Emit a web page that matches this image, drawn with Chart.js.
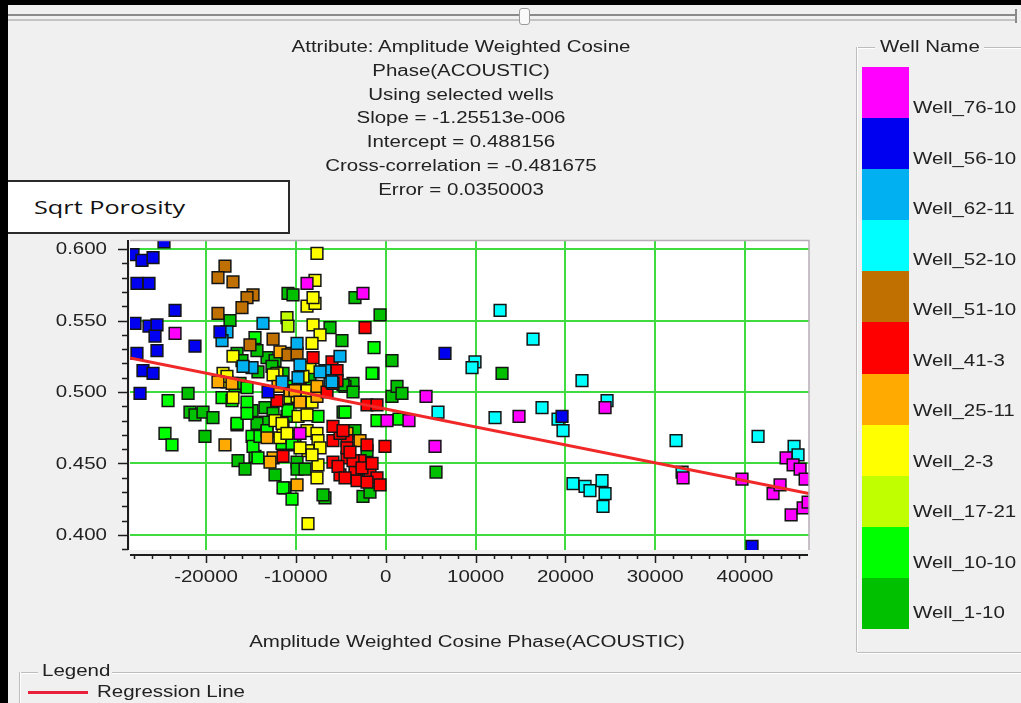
<!DOCTYPE html>
<html>
<head>
<meta charset="utf-8">
<script src="https://cdn.jsdelivr.net/npm/chart.js@4.4.0/dist/chart.umd.min.js"></script>
<style>
  html, body { margin: 0; padding: 0; width: 1021px; height: 703px; overflow: hidden; background: #f0f0f0;
    font-family: "Liberation Sans", Arial, sans-serif; color: #222; }
  #c { position: absolute; left: 0; top: 0; }
  .frame { position: absolute; background: #000; }
  .t { position: absolute; white-space: nowrap; font-size: 16px; line-height: 18px;
       transform: translate(-50%, -50%) scaleX(1.28); }
  .l { position: absolute; white-space: nowrap; font-size: 16px; line-height: 18px;
       transform-origin: 0 50%; transform: translateY(-50%) scaleX(1.28); }
  .hl { position: absolute; height: 0; border-top: 1px solid #bdbdbd; border-bottom: 1px solid #fff; }
  .vl { position: absolute; width: 0; border-left: 1px solid #bdbdbd; border-right: 1px solid #fff; }
  #slider1 { position: absolute; left: 8px; top: 14px; width: 1008px; height: 0; border-top: 2px solid #8a8a8a; }
  #slider2 { position: absolute; left: 8px; top: 19px; width: 1008px; height: 0; border-top: 2px solid #c4c4c4; }
  #knob { position: absolute; left: 519px; top: 8px; width: 9px; height: 15px; background: #fafafa;
          border: 1px solid #9a9a9a; border-radius: 3px; }
  #sliderEnd { position: absolute; left: 1015px; top: 9px; width: 2px; height: 14px; background: #8a8a8a; }
  #yname { position: absolute; left: 8px; top: 180px; width: 280px; height: 50px; background: #fff;
           border: 2px solid #2a2a2a; border-left: none; }
  #yname span { position: absolute; left: 26px; top: 50%; white-space: nowrap; font-family: "Open Sans", "Noto Sans", sans-serif;
                font-size: 19px; color: #111; transform-origin: 0 50%; transform: translateY(-50%) scaleX(1.33); }
  #bars { position: absolute; left: 862px; top: 67px; width: 47px; }
  #bars div { height: 51.1px; }
  #regSample { position: absolute; left: 28px; top: 691px; width: 60px; height: 3px; background: #e8203a; }
</style>
</head>
<body>
<canvas id="c" width="1021" height="703"></canvas>

<div class="frame" style="left:0;top:0;width:1021px;height:5px;"></div>
<div class="frame" style="left:0;top:0;width:8px;height:703px;"></div>
<div id="slider1"></div><div id="slider2"></div><div id="knob"></div><div id="sliderEnd"></div>

<div id="yname"><span>Sqrt Porosity</span></div>

<!-- Well Name group box -->
<div class="hl" style="left:857px;top:47px;width:18px;"></div>
<div class="hl" style="left:984px;top:47px;width:37px;"></div>
<div class="hl" style="left:857px;top:652px;width:164px;"></div>
<div class="vl" style="left:856px;top:47px;height:605px;"></div>
<div class="l" style="left:880px;top:47px;">Well Name</div>
<div id="bars"></div>

<!-- Legend group box -->
<div class="hl" style="left:20px;top:672px;width:18px;"></div>
<div class="hl" style="left:112px;top:672px;width:909px;"></div>
<div class="vl" style="left:19px;top:672px;height:40px;"></div>
<div class="l" style="left:42px;top:671px;">Legend</div>
<div id="regSample"></div>
<div class="l" style="left:97px;top:692px;">Regression Line</div>

<div class="t" style="left:467px;top:642px;">Amplitude Weighted Cosine Phase(ACOUSTIC)</div>

<script>
// Regression statistics shown in the header
const titleLines = [
  'Attribute: Amplitude Weighted Cosine',
  'Phase(ACOUSTIC)',
  'Using selected wells',
  'Slope = -1.25513e-006',
  'Intercept = 0.488156',
  'Cross-correlation = -0.481675',
  'Error = 0.0350003'
];
const slope = -1.25513e-6;
const intercept = 0.488156;

// Axis ranges and tick labels
const xRange = [-28465, 47120];
const yRange = [0.3895, 0.6063];
const xMajorTicks = [-20000, -10000, 0, 10000, 20000, 30000, 40000];
const yMajorTicks = [0.40, 0.45, 0.50, 0.55, 0.60];
const xMinorStep = 2000;
const yMinorStep = 0.01;

// Wells (legend order) and their colours
const wellNames = ['Well_76-10', 'Well_56-10', 'Well_62-11', 'Well_52-10', 'Well_51-10', 'Well_41-3',
                   'Well_25-11', 'Well_2-3', 'Well_17-21', 'Well_10-10', 'Well_1-10'];
const wellColors = ['#ff00ff', '#0000f0', '#00b0f0', '#00ffff', '#c07000', '#ff0000',
                    '#ffaa00', '#ffff00', '#c0ff00', '#00ff00', '#00c000'];

// Samples per well: [attribute, sqrt porosity]
const well_76_10 = [[-23450,0.541],[-8760,0.576],[-2530,0.569],[-9540,0.471],[140,0.480],[2590,0.480],
  [4490,0.497],[5490,0.462],[14840,0.483],[24420,0.489],[33100,0.440],[39660,0.439],[43120,0.429],
  [43900,0.435],[44570,0.454],[45350,0.449],[46130,0.446],[46690,0.439],[45130,0.414],[46470,0.419],[47020,0.423]];
const well_56_10 = [[-24680,0.605],[-28130,0.596],[-27130,0.592],[-25900,0.594],[-27690,0.576],[-26350,0.576],
  [-27910,0.548],[-26350,0.546],[-25460,0.547],[-25680,0.539],[-23450,0.557],[-21230,0.532],[-25460,0.529],
  [-27690,0.527],[-27020,0.515],[-25900,0.513],[-27350,0.499],[-18450,0.542],[-13100,0.500],[6600,0.527],
  [19630,0.483],[40780,0.392]];
const well_62_11 = [[-13660,0.548],[-17670,0.542],[-18220,0.536],[-9870,0.534],[-6760,0.515],[-6200,0.508],
  [-5090,0.525],[-14880,0.517],[-11540,0.507],[-9760,0.510],[-7310,0.514],[-5980,0.507],[-15880,0.518],
  [-9540,0.519]];
const well_52_10 = [[12730,0.557],[16400,0.537],[9940,0.521],[9610,0.517],[21850,0.508],[24640,0.494],
  [5820,0.486],[12170,0.482],[17400,0.489],[19180,0.481],[19740,0.473],[32320,0.466],[41450,0.469],
  [20850,0.436],[22190,0.434],[22740,0.431],[24080,0.438],[24420,0.429],[24190,0.420],[32990,0.444],
  [45460,0.462],[45900,0.456]];
const well_51_10 = [[-17890,0.588],[-18670,0.580],[-17000,0.577],[-14770,0.568],[-15440,0.566],[-16000,0.559],
  [-18670,0.555],[-15110,0.533],[-12540,0.537],[-10880,0.526],[-9870,0.527]];
const well_41_3 = [[-2300,0.545],[-8090,0.524],[-5980,0.521],[-5420,0.515],[-6530,0.500],[-5420,0.508],
  [-12100,0.494],[-2080,0.491],[-970,0.491],[-80,0.462],[-5870,0.451],[-5090,0.442],[-3190,0.438],
  [-1750,0.442],[-970,0.440],[-3420,0.446],[-2860,0.452],[-4310,0.454],[-4310,0.466],[-5870,0.466],
  [-5090,0.471],[-5870,0.476],[-4750,0.473],[-2080,0.463],[-11430,0.455],[-5310,0.448],[-3640,0.452],
  [-2080,0.437],[-4310,0.461],[-5870,0.506],[-3980,0.458],[-2640,0.447],[-4530,0.440],[-630,0.435],
  [-1520,0.450]];
const well_25_11 = [[-17890,0.463],[-18670,0.507],[-11990,0.504],[-10650,0.501],[-10100,0.501],[-12540,0.454],
  [-12880,0.451],[-9870,0.435],[-10880,0.527],[-9540,0.493],[-2860,0.466],[-4310,0.471],[-7650,0.497],
  [-13210,0.468],[-17110,0.506],[-11770,0.528],[-7650,0.504]];
const well_2_3 = [[-7650,0.597],[-7870,0.578],[-8760,0.560],[-7870,0.562],[-8090,0.566],[-8090,0.547],
  [-7310,0.540],[-8200,0.534],[-8430,0.517],[-12100,0.513],[-18110,0.513],[-17670,0.507],[-17000,0.496],
  [-12320,0.480],[-9760,0.483],[-8760,0.484],[-11770,0.468],[-11430,0.476],[-8760,0.473],[-7650,0.471],
  [-7540,0.466],[-7310,0.461],[-8650,0.459],[-7540,0.449],[-7650,0.440],[-8650,0.408],[-8760,0.494],
  [-8200,0.493],[-12540,0.512],[-11540,0.478],[-10990,0.471],[-17000,0.525],[-17670,0.511],[-9210,0.511],
  [-9870,0.497],[-8760,0.501],[-9540,0.461],[-8200,0.456]];
const well_17_21 = [[-10990,0.552],[-10880,0.546],[-10650,0.496]];
const well_10_10 = [[-24230,0.494],[-24570,0.471],[-23790,0.463],[-18220,0.496],[-17110,0.494],[-15440,0.493],
  [-15440,0.503],[-1520,0.513],[-1300,0.531],[-14550,0.538],[-16550,0.478],[-15440,0.485],[-14880,0.469],
  [-14770,0.462],[-11540,0.464],[-10430,0.464],[-11430,0.433],[-970,0.480],[1480,0.481],[-4530,0.486],
  [-14000,0.469],[-13210,0.473],[-10880,0.487],[-7540,0.483],[-10430,0.425],[-14220,0.454],[-10990,0.504]];
const well_1_10 = [[-10880,0.569],[-10320,0.568],[-3420,0.566],[-630,0.554],[-17330,0.550],[-6200,0.545],
  [-4870,0.536],[700,0.522],[-16550,0.527],[-16000,0.522],[-13210,0.524],[-12320,0.522],[-3640,0.506],
  [-4530,0.504],[-22000,0.499],[700,0.497],[1260,0.504],[-14220,0.514],[-12660,0.518],[-16780,0.504],
  [-16220,0.506],[-8430,0.510],[-8200,0.504],[-4750,0.505],[-3640,0.500],[-21790,0.486],[-21230,0.484],
  [-20340,0.486],[-19230,0.482],[-16550,0.477],[-14880,0.487],[-13440,0.489],[-12540,0.485],[-13440,0.479],
  [-10990,0.483],[-20120,0.469],[-16440,0.452],[-14550,0.455],[-10430,0.463],[-10100,0.469],[-9870,0.451],
  [-9870,0.446],[-11210,0.433],[-6760,0.426],[-2530,0.427],[-1750,0.430],[-2080,0.459],[-3420,0.473],
  [-4750,0.486],[1810,0.499],[5600,0.444],[12950,0.513],[-1410,0.513],[-6980,0.428],[-14330,0.478],
  [-13210,0.472],[-14330,0.529],[-11430,0.513],[-8980,0.446],[-12320,0.442],[-15660,0.446]];

const wellSamples = [well_76_10, well_56_10, well_62_11, well_52_10, well_51_10, well_41_3,
                     well_25_11, well_2_3, well_17_21, well_10_10, well_1_10];

// Header lines and the well colour key
const LABEL_SCALE = 1.28;
titleLines.forEach((txt, i) => {
  const d = document.createElement('div');
  d.className = 't';
  d.style.left = '461px';
  d.style.top = (47 + i * 23.8) + 'px';
  d.textContent = txt;
  document.body.appendChild(d);
});
const bars = document.getElementById('bars');
wellNames.forEach((name, i) => {
  const b = document.createElement('div');
  b.style.background = wellColors[i];
  bars.appendChild(b);
  const l = document.createElement('div');
  l.className = 'l';
  l.style.left = '913px';
  l.style.top = (108 + i * 50.5) + 'px';
  l.textContent = name;
  document.body.appendChild(l);
});

const near = (v, step) => Math.abs(v / step - Math.round(v / step)) < 1e-6;
const isMajorX = v => near(v, 10000);
const isMajorY = v => near(v, 0.05);
const GRID = '#3fdc3f';

// Ticks on every minor step inside the range (majors get grid lines and labels)
function stepTicks(range, step) {
  const out = [];
  const first = Math.ceil(range[0] / step - 1e-9);
  const last = Math.floor(range[1] / step + 1e-9);
  for (let k = first; k <= last; k++) out.push({ value: +(k * step).toFixed(6) });
  return out;
}

// White plot area, axis lines, ticks and tick labels
const axisPlugin = {
  id: 'axisPlugin',
  beforeDraw(chart) {
    const { ctx, chartArea: a } = chart;
    ctx.save();
    ctx.fillStyle = '#ffffff';
    ctx.fillRect(a.left, a.top, a.right - a.left, a.bottom - a.top);
    ctx.restore();
  },
  afterDraw(chart) {
    const { ctx, chartArea: a, scales: { x, y } } = chart;
    ctx.save();
    ctx.strokeStyle = '#b7adb7';
    ctx.lineWidth = 1.5;
    ctx.beginPath();
    ctx.moveTo(a.left, a.top + 0.5); ctx.lineTo(a.right, a.top + 0.5); ctx.lineTo(a.right, a.bottom);
    ctx.stroke();

    ctx.strokeStyle = '#1c1c1c';
    const yx = a.left - 2;
    ctx.lineWidth = 2;
    ctx.beginPath(); ctx.moveTo(yx, a.top); ctx.lineTo(yx, a.bottom); ctx.stroke();
    ctx.lineWidth = 1.5;
    y.ticks.forEach(t => {
      const py = Math.round(y.getPixelForValue(t.value)) + 0.5;
      ctx.beginPath(); ctx.moveTo(yx, py); ctx.lineTo(yx - (isMajorY(t.value) ? 10 : 6), py); ctx.stroke();
    });

    const xy = a.bottom + 5;
    ctx.lineWidth = 2;
    ctx.beginPath(); ctx.moveTo(a.left, xy); ctx.lineTo(a.right - 1, xy); ctx.stroke();
    ctx.lineWidth = 1.5;
    x.ticks.forEach(t => {
      const px = Math.round(x.getPixelForValue(t.value)) + 0.5;
      ctx.beginPath(); ctx.moveTo(px, xy); ctx.lineTo(px, xy + (isMajorX(t.value) ? 8 : 4)); ctx.stroke();
    });

    ctx.fillStyle = '#222';
    ctx.font = '16px "Liberation Sans", Arial, sans-serif';
    ctx.textBaseline = 'middle';
    xMajorTicks.forEach(v => {
      ctx.save();
      ctx.translate(x.getPixelForValue(v), xy + 23);
      ctx.scale(LABEL_SCALE, 1);
      ctx.textAlign = 'center';
      ctx.fillText(String(v), 0, 0);
      ctx.restore();
    });
    yMajorTicks.forEach(v => {
      ctx.save();
      ctx.translate(yx - 21, y.getPixelForValue(v) + 1);
      ctx.scale(LABEL_SCALE, 1);
      ctx.textAlign = 'right';
      ctx.fillText(v.toFixed(3), 0, 0);
      ctx.restore();
    });
    ctx.restore();
  }
};

const datasets = [{
  type: 'line',
  label: 'Regression Line',
  data: xRange.map(v => ({ x: v, y: intercept + slope * v })),
  borderColor: '#f02828',
  borderWidth: 3,
  pointRadius: 0,
  order: 0,
  clip: 0
}];
wellSamples.forEach((pts, i) => {
  datasets.push({
    label: wellNames[i],
    data: pts.map(p => ({ x: p[0], y: p[1] })),
    pointStyle: 'rect',
    pointRadius: 8.3,
    backgroundColor: wellColors[i],
    borderColor: '#141414',
    borderWidth: 1.5,
    order: 1,
    clip: 0
  });
});

new Chart(document.getElementById('c'), {
  type: 'scatter',
  data: { datasets },
  options: {
    responsive: false,
    animation: false,
    events: [],
    layout: { padding: { left: 110, right: 212, top: 240, bottom: 133 } },
    plugins: { legend: { display: false }, tooltip: { enabled: false } },
    scales: {
      x: {
        type: 'linear', min: xRange[0], max: xRange[1],
        afterBuildTicks(s) { s.ticks = stepTicks(xRange, xMinorStep); },
        afterFit(s) { s.height = 20; },
        border: { display: false },
        grid: { drawTicks: false, lineWidth: 2,
                color: c => (c.tick && isMajorX(c.tick.value)) ? GRID : 'rgba(0,0,0,0)' },
        ticks: { display: false, autoSkip: false }
      },
      y: {
        type: 'linear', min: yRange[0], max: yRange[1],
        afterBuildTicks(s) { s.ticks = stepTicks(yRange, yMinorStep); },
        afterFit(s) { s.width = 20; },
        border: { display: false },
        grid: { drawTicks: false, lineWidth: 2,
                color: c => (c.tick && isMajorY(c.tick.value)) ? GRID : 'rgba(0,0,0,0)' },
        ticks: { display: false, autoSkip: false }
      }
    }
  },
  plugins: [axisPlugin]
});
</script>
</body>
</html>
